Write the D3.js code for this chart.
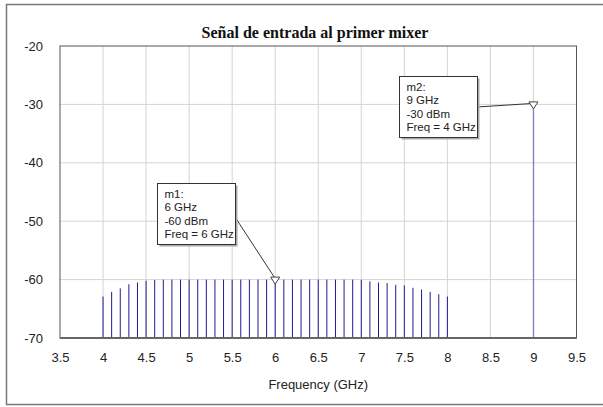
<!DOCTYPE html>
<html>
<head>
<meta charset="utf-8">
<script src="https://cdn.jsdelivr.net/npm/d3@7"></script>
<style>
  body { margin: 0; background: #fff; }
  svg { display: block; }
  .tick text { font-family: "Liberation Sans", Arial, sans-serif; font-size: 13px; fill: #222; }
</style>
</head>
<body>
<div id="chart"></div>
<script>
// spectrum stems (GHz, dBm)
const freqs = [4.0, 4.1, 4.2, 4.3, 4.4, 4.5, 4.6, 4.7, 4.8, 4.9,
  5.0, 5.1, 5.2, 5.3, 5.4, 5.5, 5.6, 5.7, 5.8, 5.9,
  6.0, 6.1, 6.2, 6.3, 6.4, 6.5, 6.6, 6.7, 6.8, 6.9,
  7.0, 7.1, 7.2, 7.3, 7.4, 7.5, 7.6, 7.7, 7.8, 7.9, 8.0];
const levels = [-62.9, -62.1, -61.5, -60.8, -60.5, -60.2, -60.05, -60, -60, -60,
  -60, -60, -60, -60, -60, -60, -60, -60, -60, -60,
  -60, -60, -60, -60, -60, -60, -60, -60, -60, -60,
  -60.05, -60.3, -60.5, -60.6, -60.9, -61.0, -61.4, -61.7, -62.1, -62.5, -62.9];
const toneFreqs = [9.0];
const toneLevels = [-30];

const xTicks = [3.5, 4, 4.5, 5, 5.5, 6, 6.5, 7, 7.5, 8, 8.5, 9, 9.5];
const yTicks = [-70, -60, -50, -40, -30, -20];

const markerNames = ['m1', 'm2'];
const markerFreqs = [6, 9];
const markerLevels = [-60, -30];
const markerNotes = ['Freq = 6 GHz', 'Freq = 4 GHz'];

const title = 'Señal de entrada al primer mixer';
const xLabel = 'Frequency (GHz)';

const W = 603, H = 407;
const margin = { top: 46, right: 26.5, bottom: 69, left: 60 };
const width = W - margin.left - margin.right;
const height = H - margin.top - margin.bottom;

const svg = d3.select('#chart').append('svg')
  .attr('width', W)
  .attr('height', H);

// outer frame
svg.append('rect')
  .attr('x', 6.5).attr('y', 4.5)
  .attr('width', 606).attr('height', 400)
  .attr('fill', 'none')
  .attr('stroke', '#777')
  .attr('stroke-width', 1.5);

const x = d3.scaleLinear().domain([3.5, 9.5]).range([0, width]);
const y = d3.scaleLinear().domain([-70, -20]).range([height, 0]);

const g = svg.append('g').attr('transform', `translate(${margin.left},${margin.top})`);

// grid
g.selectAll('.vgrid').data(xTicks.slice(1, -1)).enter().append('line')
  .attr('class', 'vgrid')
  .attr('x1', d => x(d)).attr('x2', d => x(d))
  .attr('y1', 0).attr('y2', height)
  .attr('stroke', '#d4d4d4');
g.selectAll('.hgrid').data(yTicks.slice(1, -1)).enter().append('line')
  .attr('class', 'hgrid')
  .attr('x1', 0).attr('x2', width)
  .attr('y1', d => y(d)).attr('y2', d => y(d))
  .attr('stroke', '#d4d4d4');

// axes (plain hyphen minus like the original)
const xAxis = g.append('g')
  .attr('transform', `translate(0,${height})`)
  .call(d3.axisBottom(x).tickValues(xTicks).tickSize(0).tickPadding(15).tickFormat(d => String(d)));
xAxis.select('.domain').remove();

const yAxis = g.append('g')
  .call(d3.axisLeft(y).tickValues(yTicks).tickSize(0).tickPadding(17).tickFormat(d => String(d)));
yAxis.select('.domain').remove();

// stems
const stems = freqs.map((f, i) => ({ f, v: levels[i] }));
g.selectAll('.stem').data(stems).enter().append('line')
  .attr('class', 'stem')
  .attr('x1', d => x(d.f)).attr('x2', d => x(d.f))
  .attr('y1', y(-70)).attr('y2', d => y(d.v))
  .attr('stroke', '#1c1c96')
  .attr('stroke-width', 1);

// the 9 GHz tone: pixel-snapped, lighter blue
const tones = toneFreqs.map((f, i) => ({ f, v: toneLevels[i] }));
g.selectAll('.tone').data(tones).enter().append('line')
  .attr('class', 'tone')
  .attr('x1', d => Math.round(x(d.f)) + 0.5).attr('x2', d => Math.round(x(d.f)) + 0.5)
  .attr('y1', y(-70)).attr('y2', d => y(d.v))
  .attr('stroke', '#7d7dcc')
  .attr('stroke-width', 1.3);

// plot frame
g.append('rect')
  .attr('x', 0).attr('y', 0)
  .attr('width', width).attr('height', height)
  .attr('fill', 'none')
  .attr('stroke', '#555');
g.append('line')
  .attr('x1', 0).attr('x2', width)
  .attr('y1', height).attr('y2', height)
  .attr('stroke', '#666')
  .attr('stroke-width', 2);

// markers
const boxOffset = [{ dx: -118, dy: -97 }, { dx: -134, dy: -28.5 }];
const boxW = 78, boxH = 61;
markerNames.forEach((name, i) => {
  const px = x(markerFreqs[i]);
  const py = y(markerLevels[i]);
  const bx = Math.round(px + boxOffset[i].dx);
  const by = Math.round(py + boxOffset[i].dy);

  g.append('line')
    .attr('x1', bx + boxW).attr('y1', by + (i === 0 ? 34 : 31))
    .attr('x2', px).attr('y2', py - 1)
    .attr('stroke', '#333');

  g.append('path')
    .attr('d', `M${px - 4.5},${py - 2.5} L${px + 4.5},${py - 2.5} L${px},${py + 4.5} Z`)
    .attr('fill', '#fff')
    .attr('stroke', '#444');

  g.append('rect')
    .attr('x', bx + 2.5).attr('y', by + 2.5)
    .attr('width', boxW).attr('height', boxH)
    .attr('fill', '#a8a8a8');
  g.append('rect')
    .attr('x', bx + 0.5).attr('y', by + 0.5)
    .attr('width', boxW).attr('height', boxH)
    .attr('fill', '#fff')
    .attr('stroke', '#333');

  const lines = [`${name}:`, `${markerFreqs[i]} GHz`, `${markerLevels[i]} dBm`, markerNotes[i]];
  g.selectAll(`.mtext${i}`).data(lines).enter().append('text')
    .attr('class', `mtext${i}`)
    .attr('x', bx + 7.5)
    .attr('y', (d, k) => by + 15 + k * 13.3)
    .attr('font-family', '"Liberation Sans", Arial, sans-serif')
    .attr('font-size', 11.5)
    .attr('fill', '#222')
    .text(d => d);
});

// title and axis label
svg.append('text')
  .attr('x', 315).attr('y', 38)
  .attr('text-anchor', 'middle')
  .attr('font-family', '"Liberation Serif", "Times New Roman", serif')
  .attr('font-weight', 'bold')
  .attr('font-size', 16)
  .attr('fill', '#111')
  .text(title);

svg.append('text')
  .attr('x', margin.left + width / 2).attr('y', 389)
  .attr('text-anchor', 'middle')
  .attr('font-family', '"Liberation Sans", Arial, sans-serif')
  .attr('font-size', 13)
  .attr('fill', '#222')
  .text(xLabel);
</script>
</body>
</html>
